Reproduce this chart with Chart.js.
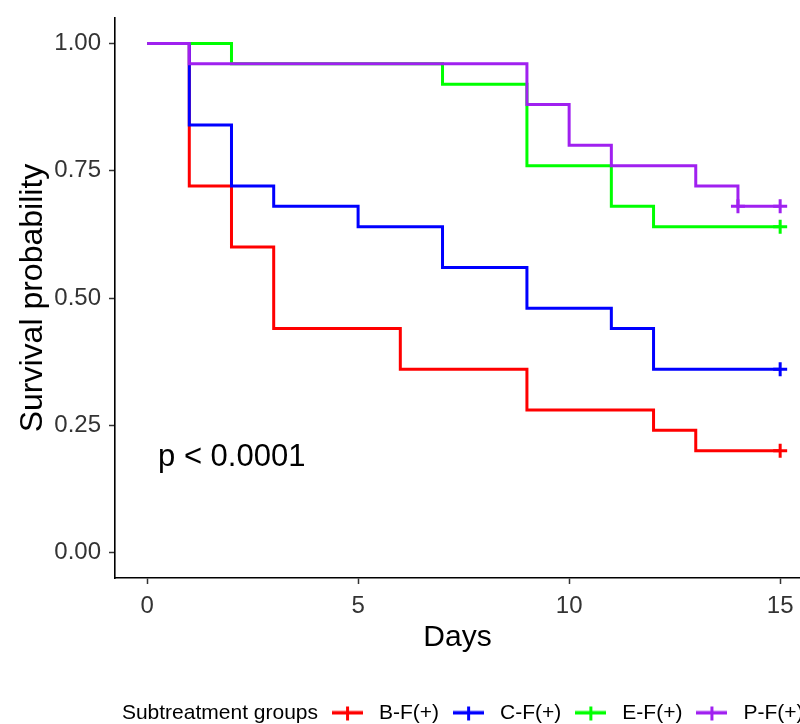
<!DOCTYPE html>
<html lang="en">
<head>
  <meta charset="UTF-8">
  <title>Survival curves by subtreatment group</title>
  <script src="https://cdn.jsdelivr.net/npm/chart.js"></script>
  <style>
    body { margin: 0; background: #fff; }
    #wrap { width: 800px; height: 724px; overflow: hidden; }
  </style>
</head>
<body>
  <div id="wrap"><canvas id="survChart" width="800" height="724"></canvas></div>
  <script>
    // Kaplan-Meier steps (time of drop, survival after drop)
    const groupNames = ['B-F(+)', 'C-F(+)', 'E-F(+)', 'P-F(+)'];
    const groupColors = ['#FF0000', '#0000FF', '#00FF00', '#A020F0'];

    const bfTimes = [0, 1, 2, 3, 6, 9, 12, 13, 15];
    const bfSurv = [1.00, 0.72, 0.60, 0.44, 0.36, 0.28, 0.24, 0.20, 0.20];
    const cfTimes = [0, 1, 2, 3, 5, 7, 9, 11, 12, 15];
    const cfSurv = [1.00, 0.84, 0.72, 0.68, 0.64, 0.56, 0.48, 0.44, 0.36, 0.36];
    const efTimes = [0, 2, 7, 9, 11, 12, 15];
    const efSurv = [1.00, 0.96, 0.92, 0.76, 0.68, 0.64, 0.64];
    const pfTimes = [0, 1, 9, 10, 11, 13, 14, 15];
    const pfSurv = [1.00, 0.96, 0.88, 0.80, 0.76, 0.72, 0.68, 0.68];

    // censored observations (+ marks)
    const bfCensT = [15], bfCensS = [0.20];
    const cfCensT = [15], cfCensS = [0.36];
    const efCensT = [15], efCensS = [0.64];
    const pfCensT = [14, 15], pfCensS = [0.68, 0.68];

    const xTicks = [0, 5, 10, 15];
    const yTicks = [0, 0.25, 0.5, 0.75, 1];
    const pText = 'p < 0.0001';

    const FONT = "'Liberation Sans', Arial, sans-serif";

    function pts(t, s) {
      return t.map((v, i) => ({ x: v, y: s[i] }));
    }

    const curves = [[bfTimes, bfSurv], [cfTimes, cfSurv], [efTimes, efSurv], [pfTimes, pfSurv]];
    const cens = [[bfCensT, bfCensS], [cfCensT, cfCensS], [efCensT, efCensS], [pfCensT, pfCensS]];

    const datasets = [];
    curves.forEach((c, i) => {
      datasets.push({
        label: groupNames[i],
        data: pts(c[0], c[1]),
        borderColor: groupColors[i],
        borderWidth: 3,
        stepped: true,
        pointRadius: 0,
        fill: false,
        order: 10 - i * 2
      });
      datasets.push({
        label: groupNames[i] + ' censor',
        data: pts(cens[i][0], cens[i][1]),
        showLine: false,
        pointStyle: 'cross',
        pointRadius: 7,
        pointBorderWidth: 3,
        pointBorderColor: groupColors[i],
        borderColor: groupColors[i],
        order: 9 - i * 2
      });
    });

    // legend key: short line with a cross through it
    function keySymbol(color) {
      const c = document.createElement('canvas');
      c.width = 31; c.height = 16;
      const g = c.getContext('2d');
      g.fillStyle = color;
      g.fillRect(0, 5.5, 31, 3.5);
      g.fillRect(14, 1, 3, 14);
      return c;
    }
    const blank = document.createElement('canvas');
    blank.width = 1; blank.height = 1;

    const pLabel = {
      id: 'pLabel',
      afterDatasetsDraw(chart) {
        const { ctx, scales } = chart;
        ctx.save();
        ctx.font = '31px ' + FONT;
        ctx.fillStyle = '#000';
        ctx.textAlign = 'left';
        ctx.textBaseline = 'middle';
        ctx.fillText(pText, scales.x.getPixelForValue(0.26), scales.y.getPixelForValue(0.186));
        ctx.restore();
      }
    };

    function noPad(s) {
      s.paddingLeft = 0; s.paddingRight = 0; s.paddingTop = 0; s.paddingBottom = 0;
    }

    new Chart(document.getElementById('survChart'), {
      type: 'line',
      data: { datasets },
      plugins: [pLabel],
      options: {
        responsive: false,
        animation: false,
        layout: { autoPadding: false, padding: { top: 18, right: -12, left: 0, bottom: -10 } },
        scales: {
          x: {
            type: 'linear',
            min: -0.76,
            max: 15.47,
            afterBuildTicks: s => { s.ticks = xTicks.map(v => ({ value: v })); },
            afterFit: s => { s.height = 116.5; noPad(s); },
            ticks: { font: { size: 24, family: FONT }, color: '#333', padding: 8 },
            grid: { drawOnChartArea: false, tickLength: 6, tickColor: '#333', tickWidth: 1.5 },
            border: { color: '#000', width: 1.6 },
            title: { display: true, text: 'Days', font: { size: 30, family: FONT }, color: '#000', padding: { top: 0, bottom: 39 } }
          },
          y: {
            min: -0.05,
            max: 1.05,
            afterBuildTicks: s => { s.ticks = yTicks.map(v => ({ value: v })); },
            afterFit: s => { s.width = 115; noPad(s); },
            ticks: { font: { size: 24, family: FONT }, color: '#333', padding: 8, callback: v => v.toFixed(2) },
            grid: { drawOnChartArea: false, tickLength: 6, tickColor: '#333', tickWidth: 1.5 },
            border: { color: '#000', width: 1.6 },
            title: { display: true, text: 'Survival probability', font: { size: 32, family: FONT }, color: '#000', padding: { top: 14, bottom: 0 } }
          }
        },
        plugins: {
          tooltip: { enabled: false },
          legend: {
            position: 'bottom',
            align: 'end',
            onClick: null,
            labels: {
              usePointStyle: true,
              pointStyleWidth: 42,
              padding: 8.5,
              color: '#000',
              font: { size: 21, family: FONT },
              generateLabels: () => {
                const items = [{ text: 'Subtreatment groups', pointStyle: blank, fillStyle: 'rgba(0,0,0,0)', strokeStyle: 'rgba(0,0,0,0)', lineWidth: 0, hidden: false, fontColor: '#000' }];
                groupNames.forEach((n, i) => items.push({ text: n, pointStyle: keySymbol(groupColors[i]), fillStyle: groupColors[i], strokeStyle: groupColors[i], lineWidth: 0, hidden: false, fontColor: '#000' }));
                return items;
              }
            }
          }
        }
      }
    });
  </script>
</body>
</html>
